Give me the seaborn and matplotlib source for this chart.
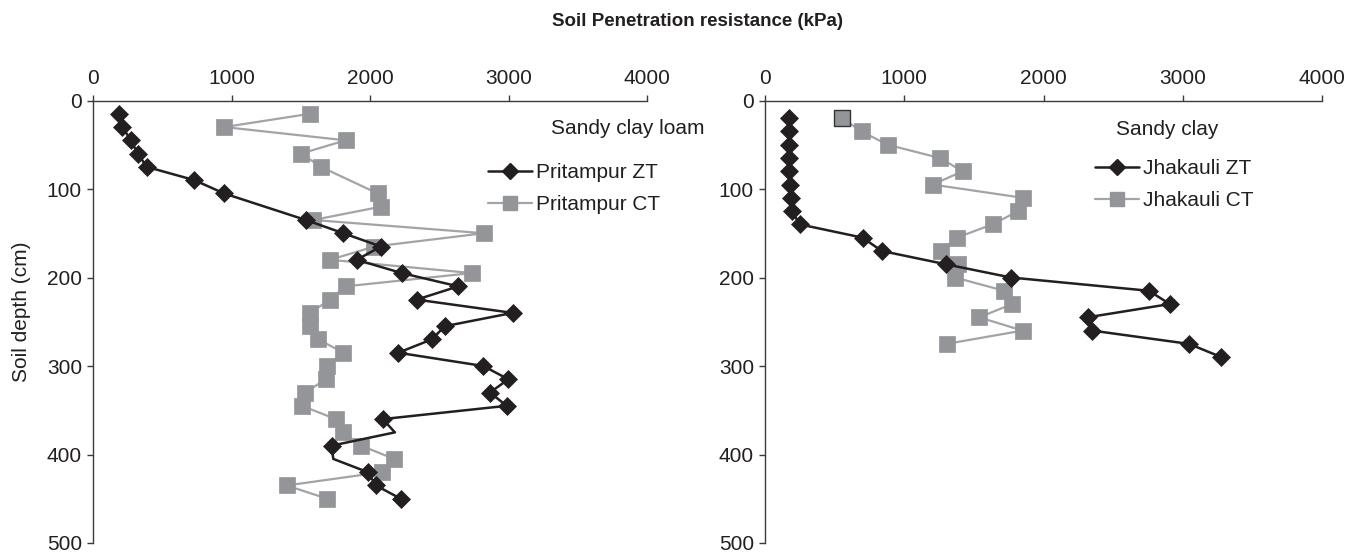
import numpy as np
import pandas as pd
import matplotlib
matplotlib.use("Agg")
import matplotlib.pyplot as plt
from matplotlib.lines import Line2D
import seaborn as sns

# ---------------- data ----------------
prit_zt_depth = [15, 30, 45, 60, 75, 90, 105, 135, 150, 165, 180, 195, 210, 225, 240,
                 255, 270, 285, 300, 315, 330, 345, 360, 375, 390, 405, 420, 435, 450]
prit_zt_kpa = [190, 212, 274, 323, 388, 732, 946, 1536, 1808, 2079, 1904, 2229, 2637, 2337, 3030,
               2541, 2445, 2204, 2818, 2999, 2866, 2987, 2092, 2180, 1723, 1735, 1985, 2043, 2222]
prit_zt_nomarker = [375, 405]   # depths where the ZT line bends without a marker

prit_ct_depth = [15, 30, 45, 60, 75, 105, 120, 135, 150, 165, 180, 195, 210, 225, 240,
                 255, 270, 285, 300, 315, 330, 345, 360, 375, 390, 405, 420, 435, 450]
prit_ct_kpa = [1567, 948, 1824, 1502, 1646, 2055, 2079, 1591, 2823, 2031, 1711, 2736, 1824, 1711, 1567,
               1567, 1627, 1808, 1687, 1682, 1531, 1507, 1754, 1808, 1935, 2175, 2084, 1398, 1692]

jhak_zt_depth = [20, 35, 50, 65, 80, 95, 110, 125, 140, 155, 170, 185, 200, 215, 230, 245, 260, 275, 290]
jhak_zt_kpa = [172, 172, 172, 172, 175, 177, 185, 192, 251, 701, 838, 1297, 1766, 2757, 2907,
               2316, 2350, 3044, 3278]

jhak_ct_depth = [20, 35, 50, 65, 80, 95, 110, 125, 140, 155, 170, 185, 200, 215, 230, 245, 260, 275]
jhak_ct_kpa = [555, 694, 881, 1256, 1419, 1204, 1854, 1818, 1634, 1376, 1263, 1388, 1364, 1718,
               1775, 1538, 1850, 1304]

x_ticks = [0, 1000, 2000, 3000, 4000]
y_ticks = [0, 100, 200, 300, 400, 500]

title = "Soil Penetration resistance (kPa)"
ylabel = "Soil depth (cm)"
panels = [
    dict(soil="Sandy clay loam", zt=("Pritampur ZT", prit_zt_depth, prit_zt_kpa),
         ct=("Pritampur CT", prit_ct_depth, prit_ct_kpa), nomark=prit_zt_nomarker),
    dict(soil="Sandy clay", zt=("Jhakauli ZT", jhak_zt_depth, jhak_zt_kpa),
         ct=("Jhakauli CT", jhak_ct_depth, jhak_ct_kpa), nomark=[]),
]

# ---------------- style ----------------
sns.set_style("white")
plt.rcParams["font.family"] = ["Liberation Sans", "DejaVu Sans"]
plt.rcParams["text.color"] = "#231f20"

BLACK = "#231f20"
GREY_M = "#939598"
GREY_L = "#a2a4a7"
SPINE = "#3a3a3a"
FS = 15

W, H = 1347, 552
fig = plt.figure(figsize=(W / 100, H / 100), dpi=100)
ax_rects = [
    [93 / W, 1 - 543 / H, 554 / W, 442.5 / H],
    [765 / W, 1 - 543 / H, 557 / W, 442.5 / H],
]
legend_anchor = [(488 / W, 1 - 163 / H), (1095 / W, 1 - 159 / H)]
soil_pos = [(628 / W, 1 - 128 / H), (1167 / W, 1 - 130 / H)]

for i, p in enumerate(panels):
    ax = fig.add_axes(ax_rects[i])
    ct_name, ct_d, ct_v = p["ct"]
    zt_name, zt_d, zt_v = p["zt"]
    df_ct = pd.DataFrame({"kpa": ct_v, "depth": ct_d})
    df_zt = pd.DataFrame({"kpa": zt_v, "depth": zt_d})

    sns.lineplot(data=df_ct, x="kpa", y="depth", orient="y", estimator=None, ax=ax,
                 color=GREY_L, linewidth=1.6, marker="s", markersize=11.5,
                 markerfacecolor=GREY_M, markeredgecolor=GREY_M, markeredgewidth=0.5,
                 zorder=2, legend=False)
    if i == 1:
        # first CT point shows a dark outline in the original
        sns.scatterplot(data=df_ct.iloc[:1], x="kpa", y="depth", ax=ax, marker="s",
                        s=11.5 ** 2, color=GREY_M, edgecolor="#333333", linewidth=1.0,
                        zorder=3, legend=False)
    mark_idx = [k for k, d in enumerate(zt_d) if d not in p["nomark"]]
    sns.lineplot(data=df_zt, x="kpa", y="depth", orient="y", estimator=None, ax=ax,
                 color=BLACK, linewidth=1.8, marker="D", markersize=8.8,
                 markerfacecolor=BLACK, markeredgecolor=BLACK, markeredgewidth=0.5,
                 markevery=mark_idx, zorder=4, legend=False)

    ax.set_xlim(0, 4000)
    ax.set_ylim(500, 0)
    ax.set_xticks(x_ticks)
    ax.set_yticks(y_ticks)
    ax.set_xticklabels([str(t) for t in x_ticks])
    ax.set_yticklabels([str(t) for t in y_ticks])
    ax.xaxis.tick_top()
    ax.set_xlabel("")
    ax.set_ylabel("")
    for s in ["right", "bottom"]:
        ax.spines[s].set_visible(False)
    for s in ["top", "left"]:
        ax.spines[s].set_color(SPINE)
        ax.spines[s].set_linewidth(1.0)
    ax.tick_params(axis="both", direction="out", length=4.5, width=1.0, color=SPINE,
                   labelsize=FS, labelcolor=BLACK)
    ax.tick_params(axis="x", pad=4.5, top=True, bottom=False)
    ax.tick_params(axis="y", pad=3.5, left=True)
    ax.grid(False)
    ax.set_facecolor("none")

    handles = [
        Line2D([], [], color=BLACK, lw=1.8, marker="D", markersize=8.0,
               markerfacecolor=BLACK, markeredgecolor=BLACK),
        Line2D([], [], color=GREY_L, lw=1.6, marker="s", markersize=9.5,
               markerfacecolor=GREY_M, markeredgecolor=GREY_M),
    ]
    fig.legend(handles, [zt_name, ct_name], loc="upper left",
               bbox_to_anchor=legend_anchor[i], bbox_transform=fig.transFigure,
               frameon=False, fontsize=FS, handlelength=2.1, handletextpad=0.2,
               borderpad=0, borderaxespad=0, labelspacing=0.62)
    fig.text(soil_pos[i][0], soil_pos[i][1], p["soil"], ha="center", va="center",
             fontsize=FS, color=BLACK)

fig.text(698 / W, 1 - 22 / H, title, ha="center", va="center", fontsize=13.5,
         fontweight="bold", color=BLACK)
fig.text(22 / W, 1 - 312 / H, ylabel, ha="center", va="center", rotation=90,
         fontsize=FS, color=BLACK)

fig.savefig("out.png", dpi=100, facecolor="white")
